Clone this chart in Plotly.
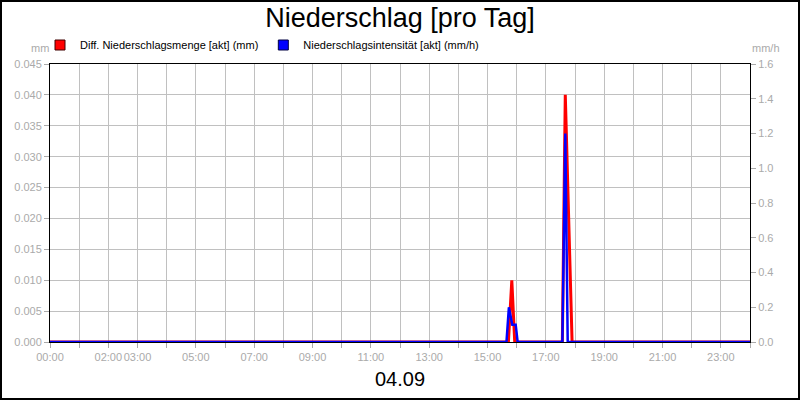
import plotly.graph_objects as go

# Messwerte 04.09 (Uhrzeit, Wert)
menge_zeit = ["00:00", "15:43", "15:50", "15:56", "17:34", "17:40", "17:54", "24:00"]
menge_mm = [0, 0, 0.01, 0, 0, 0.04, 0, 0]

intens_zeit = ["00:00", "15:39", "15:44", "15:51", "15:58", "16:02",
               "17:34", "17:40", "17:45", "24:00"]
intens_mmh = [0, 0, 0.2, 0.1, 0.1, 0, 0, 1.2, 0, 0]

x_labels = ["00:00", "02:00", "03:00", "05:00", "07:00", "09:00", "11:00",
            "13:00", "15:00", "17:00", "19:00", "21:00", "23:00"]


def stunden(t):
    h, m = t.split(":")
    return int(h) + int(m) / 60


GRAU = "#aaaaaa"
GITTER = "#c0c0c0"
SCHRIFT = "Liberation Sans, Arial, sans-serif"

L, R, T, B = 50, 50, 64, 58
PW, PH = 800 - L - R, 400 - T - B


def px(x):
    return (x - L) / PW


def py(y):
    return (400 - B - y) / PH


fig = go.Figure()

fig.add_trace(go.Scatter(
    x=[stunden(t) for t in intens_zeit], y=intens_mmh, yaxis="y2",
    mode="lines", line=dict(color="#0000ff", width=2.5), showlegend=False,
))
fig.add_trace(go.Scatter(
    x=[stunden(t) for t in menge_zeit], y=menge_mm,
    mode="lines", line=dict(color="#ff0000", width=3), showlegend=False,
))

# Legendeneinträge als Quadrate
fig.add_trace(go.Scatter(
    x=[None], y=[None], mode="markers", name="Diff. Niederschlagsmenge [akt] (mm)",
    marker=dict(symbol="square", size=10, color="#ff0000", line=dict(color="#400000", width=1)),
))
fig.add_trace(go.Scatter(
    x=[None], y=[None], mode="markers", name="Niederschlagsintensität [akt] (mm/h)",
    marker=dict(symbol="square", size=10, color="#0000ff", line=dict(color="#000040", width=1)),
))

fig.update_layout(
    width=800, height=400,
    margin=dict(l=L, r=R, t=T, b=B, autoexpand=False),
    paper_bgcolor="white", plot_bgcolor="white",
    font=dict(family=SCHRIFT, size=11, color=GRAU),
    title=dict(text="Niederschlag [pro Tag]", x=0.5, xanchor="center",
               y=1 - 18 / 400, yanchor="middle",
               font=dict(size=27, color="black", family=SCHRIFT)),
    showlegend=True,
    legend=dict(orientation="h", x=px(40), y=py(45), xanchor="left", yanchor="middle",
                font=dict(size=11, color="black"), bgcolor="rgba(0,0,0,0)",
                itemwidth=30),
    xaxis=dict(
        range=[0, 24], tickvals=[stunden(t) for t in x_labels], ticktext=x_labels,
        tickangle=0, automargin=False,
        showgrid=True, gridcolor=GITTER, gridwidth=1,
        ticks="outside", ticklen=5, tickcolor=GRAU,
        minor=dict(dtick=1, tick0=0, showgrid=True, gridcolor=GITTER,
                   ticks="outside", ticklen=5, tickcolor=GRAU),
        showline=True, linecolor="black", linewidth=1, mirror=True,
        zeroline=False, tickfont=dict(size=11, color=GRAU),
    ),
    yaxis=dict(
        range=[0, 0.045], dtick=0.005, tickformat=".3f", automargin=False,
        showgrid=True, gridcolor=GITTER, gridwidth=1,
        ticks="outside", ticklen=5, tickcolor=GRAU,
        showline=True, linecolor="black", linewidth=1, mirror=True,
        zeroline=False, tickfont=dict(size=11, color=GRAU),
    ),
    yaxis2=dict(
        range=[0, 1.6], dtick=0.2, tickformat=".1f", overlaying="y", side="right",
        automargin=False,
        showgrid=False, ticks="outside", ticklen=5, tickcolor=GRAU,
        zeroline=False, tickfont=dict(size=11, color=GRAU),
    ),
    shapes=[dict(type="rect", xref="paper", yref="paper",
                 x0=px(1), x1=px(799), y0=py(399), y1=py(1),
                 line=dict(color="black", width=2), fillcolor="rgba(0,0,0,0)")],
    annotations=[
        dict(text="mm", xref="paper", yref="paper", x=px(40), y=py(48),
             xanchor="center", yanchor="middle",
             showarrow=False, font=dict(size=11, color=GRAU)),
        dict(text="mm/h", xref="paper", yref="paper", x=px(766), y=py(48),
             xanchor="center", yanchor="middle",
             showarrow=False, font=dict(size=11, color=GRAU)),
        dict(text="04.09", xref="paper", yref="paper", x=0.5, y=py(379),
             xanchor="center", yanchor="middle",
             showarrow=False, font=dict(size=20, color="black")),
    ],
)

fig.write_html("out.html", config={"displayModeBar": False},
               post_script="document.body.style.margin = '0';")
